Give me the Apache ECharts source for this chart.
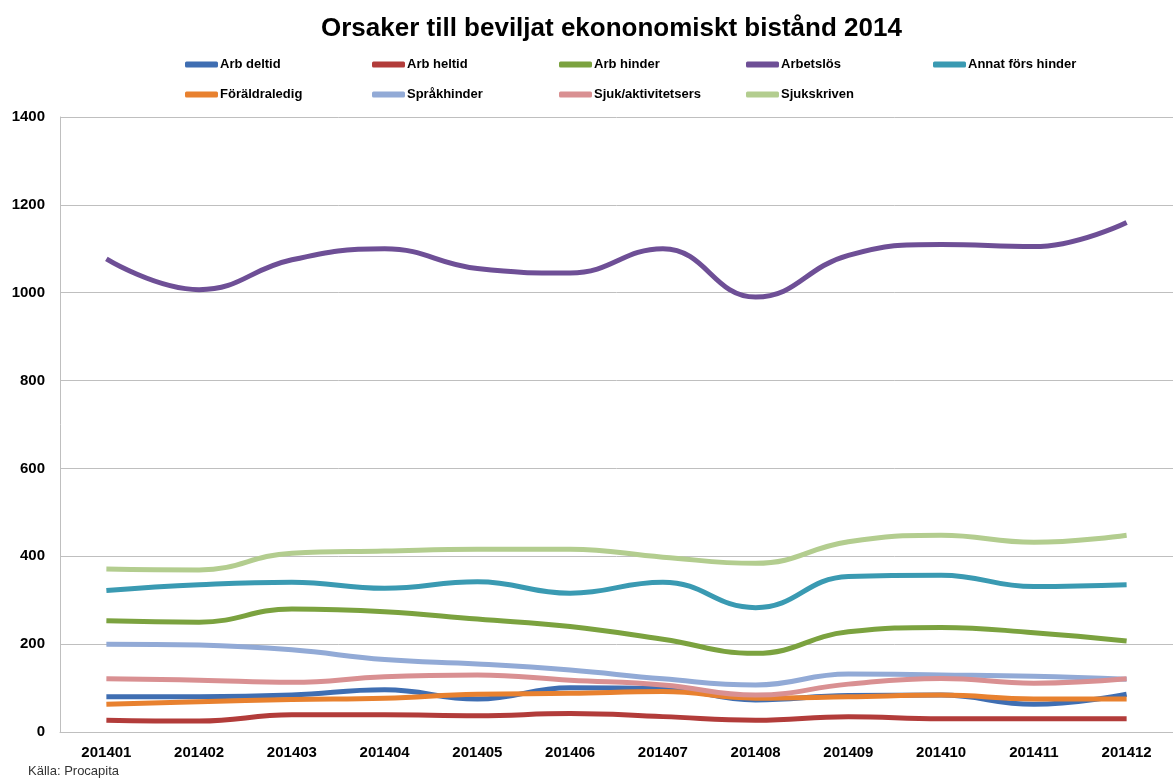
<!DOCTYPE html>
<html>
<head>
<meta charset="utf-8">
<script src="https://cdn.jsdelivr.net/npm/echarts@6/dist/echarts.min.js"></script>
<style>
  html, body { margin: 0; padding: 0; background: #fff; }
  #chart { width: 1173px; height: 783px; }
</style>
</head>
<body>
<div id="chart"></div>
<script>
var months = ['201401', '201402', '201403', '201404', '201405', '201406',
              '201407', '201408', '201409', '201410', '201411', '201412'];

var arbDeltid      = [80, 80, 84, 96, 75, 101, 99, 73, 83, 84, 63, 86];
var arbHeltid      = [27, 25, 39, 39, 37, 42, 35, 27, 35, 30, 30, 30];
var arbHinder      = [253, 250, 280, 274, 257, 240, 211, 179, 228, 238, 226, 207];
var arbetslos      = [1077, 1007, 1075, 1100, 1055, 1045, 1100, 990, 1085, 1110, 1105, 1160];
var annatFors      = [322, 335, 341, 327, 342, 316, 341, 283, 354, 357, 331, 335];
var foraldraledig  = [63, 69, 74, 77, 86, 88, 92, 77, 80, 84, 75, 75];
var sprakhinder    = [200, 198, 187, 165, 155, 141, 121, 107, 132, 130, 127, 120];
var sjukAktivitet  = [121, 118, 113, 126, 130, 118, 107, 84, 109, 122, 111, 121];
var sjukskriven    = [371, 369, 407, 412, 416, 416, 398, 384, 433, 448, 432, 448];

var yTicks = [0, 200, 400, 600, 800, 1000, 1200, 1400];

var names = ['Arb deltid', 'Arb heltid', 'Arb hinder', 'Arbetslös', 'Annat förs hinder',
             'Föräldraledig', 'Språkhinder', 'Sjuk/aktivitetsers', 'Sjukskriven'];
var values = [arbDeltid, arbHeltid, arbHinder, arbetslos, annatFors,
              foraldraledig, sprakhinder, sjukAktivitet, sjukskriven];
var colors = ['#3F6EB2', '#B23C3A', '#7BA23F', '#6E4F96', '#3A9AB2',
              '#E8812F', '#92AAD6', '#D99092', '#B3CD8F'];

var font = '"Liberation Sans", Arial, sans-serif';

var series = names.map(function (n, i) {
  return {
    name: n,
    type: 'line',
    data: values[i],
    smooth: 0.45,
    showSymbol: false,
    lineStyle: { width: 5, color: colors[i] },
    itemStyle: { color: colors[i] }
  };
});

// legend laid out in columns like the original: 5 on the first row, 4 on the second
var legends = names.map(function (n, i) {
  return {
    data: [n],
    left: 180 + (i % 5) * 187,
    top: i < 5 ? 53 : 83,
    itemWidth: 33,
    itemHeight: 6,
    icon: 'roundRect',
    textStyle: { fontFamily: font, fontWeight: 'bold', fontSize: 13, color: '#000', padding: [0, 0, 0, -3] }
  };
});

var chart = echarts.init(document.getElementById('chart'));
chart.setOption({
  animation: false,
  color: colors,
  title: {
    text: 'Orsaker till beviljat ekononomiskt bistånd 2014',
    left: 316,
    top: 11,
    textStyle: { fontFamily: font, fontWeight: 'bold', fontSize: 26, color: '#000' }
  },
  legend: legends,
  graphic: [{
    type: 'text',
    left: 28,
    top: 765,
    style: { text: 'Källa: Procapita', font: '13px ' + font, fill: '#333' }
  }],
  grid: { left: 60, top: 117, width: 1124, bottom: 51, containLabel: false },
  xAxis: {
    type: 'category',
    data: months,
    boundaryGap: true,
    axisLine: { lineStyle: { color: '#BFBFBF', width: 1 } },
    axisTick: { show: false },
    axisLabel: { fontFamily: font, fontWeight: 'bold', fontSize: 15, color: '#000', margin: 13 }
  },
  yAxis: {
    type: 'value',
    min: yTicks[0],
    max: yTicks[yTicks.length - 1],
    interval: 200,
    axisLine: { show: true, lineStyle: { color: '#BFBFBF', width: 1 } },
    axisTick: { show: false },
    splitLine: { lineStyle: { color: '#BFBFBF', width: 1 } },
    axisLabel: {
      fontFamily: font, fontWeight: 'bold', fontSize: 15, color: '#000', margin: 15,
      formatter: function (v) { return String(v); }
    }
  },
  series: series
});
</script>
</body>
</html>
